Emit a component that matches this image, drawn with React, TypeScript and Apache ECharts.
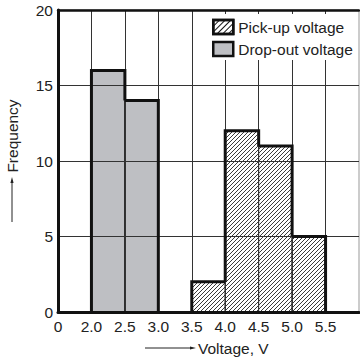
import React, { useEffect, useRef } from 'react';
import * as echarts from 'echarts';

// Tick labels of the broken voltage axis (one label per bin boundary)
const tickLabels = ['0', '2.0', '2.5', '3.0', '3.5', '4.0', '4.5', '5.0', '5.5'];
const binWidthV = 0.5;
const dropOutStart = [2.0, 2.5];
const dropOutCounts = [16, 14];
const pickUpStart = [3.5, 4.0, 4.5, 5.0];
const pickUpCounts = [2, 12, 11, 5];
const yMin = 0;
const yMax = 20;
const yInterval = 5;

const FONT = "'Liberation Sans', Arial, Helvetica, sans-serif";
const FS = 15.5;
const GRAY = '#bebfc3';
const INK = '#111';

// axis 0..2 V compressed to one cell, then 0.5 V per cell
function vToPos(v: number) {
  return v <= 2 ? v / 2 : 1 + (v - 2) / binWidthV;
}

function buildBins(starts: number[], counts: number[]) {
  return starts.map((s, i) => [
    vToPos(s),
    vToPos(s + binWidthV),
    counts[i],
    i > 0 ? counts[i - 1] : 0,
    i < counts.length - 1 ? counts[i + 1] : 0,
  ]);
}

const dropBins = buildBins(dropOutStart, dropOutCounts);
const pickBins = buildBins(pickUpStart, pickUpCounts);

function fillRender(hatched: boolean) {
  return (params: any, api: any) => {
    const x0 = api.value(0);
    const x1 = api.value(1);
    const h = api.value(2);
    const pB = api.coord([x0, 0]);
    const pT = api.coord([x1, h]);
    const xL = pB[0], xR = pT[0], yT = pT[1], yB = pB[1];
    const children: any[] = [
      {
        type: 'rect',
        shape: { x: xL, y: yT, width: xR - xL, height: yB - yT },
        style: { fill: hatched ? '#fff' : GRAY, stroke: INK, lineWidth: 1 },
      },
    ];
    if (hatched) {
      const step = 4;
      const cStart = Math.ceil((xL + yT) / step) * step;
      for (let c = cStart; c <= xR + yB; c += step) {
        const xa = Math.max(xL, c - yB);
        const xb = Math.min(xR, c - yT);
        if (xb > xa) {
          children.push({
            type: 'line',
            shape: { x1: xa, y1: c - xa, x2: xb, y2: c - xb },
            style: { stroke: '#222', lineWidth: 0.9 },
          });
        }
      }
    }
    return { type: 'group', children };
  };
}

function outlineRender(params: any, api: any) {
  const x0 = api.value(0);
  const x1 = api.value(1);
  const h = api.value(2);
  const prevH = api.value(3);
  const nextH = api.value(4);
  const start = h > prevH ? api.coord([x0, prevH]) : api.coord([x0, h]);
  const end = h > nextH ? api.coord([x1, nextH]) : api.coord([x1, h]);
  const points = [start, api.coord([x0, h]), api.coord([x1, h]), end];
  return {
    type: 'polyline',
    shape: { points },
    style: { stroke: INK, lineWidth: 3, fill: null, lineJoin: 'miter' },
  };
}

export default function App() {
  const ref = useRef<HTMLDivElement>(null);
  useEffect(() => {
    if (!ref.current) return;
    const chart = echarts.init(ref.current, null, { renderer: 'svg' });
    const option: any = {
      animation: false,
      backgroundColor: '#fff',
      textStyle: { fontFamily: FONT },
      grid: {
        left: 58,
        top: 10,
        right: 1,
        bottom: 48,
        show: true,
        borderColor: '#999',
        borderWidth: 1,
        backgroundColor: 'transparent',
      },
      xAxis: [
        {
          type: 'value',
          min: 0,
          max: tickLabels.length,
          interval: 1,
          z: 2,
          axisLine: { show: true, onZero: false, lineStyle: { color: INK, width: 3 } },
          axisTick: { show: false },
          axisLabel: {
            fontSize: FS,
            color: '#222',
            margin: 6,
            fontFamily: FONT,
            showMaxLabel: false,
            formatter: (v: number) => tickLabels[Math.round(v)] ?? '',
          },
          splitLine: { show: true, showMaxLine: false, lineStyle: { color: '#333', width: 1 } },
        },
        {
          type: 'value',
          position: 'top',
          min: 0,
          max: tickLabels.length,
          interval: 1,
          z: 2,
          axisLine: { show: true, onZero: false, lineStyle: { color: INK, width: 2.5 } },
          axisTick: { show: false },
          axisLabel: { show: false },
          splitLine: { show: false },
        },
      ],
      yAxis: {
        type: 'value',
        min: yMin,
        max: yMax,
        interval: yInterval,
        z: 2,
        axisLine: { show: true, onZero: false, lineStyle: { color: INK, width: 3 } },
        axisTick: { show: false },
        axisLabel: { fontSize: FS, color: '#222', margin: 5, fontFamily: FONT },
        splitLine: { show: true, lineStyle: { color: '#333', width: 1 } },
      },
      legend: {
        orient: 'vertical',
        left: 200,
        top: 14,
        backgroundColor: '#fff',
        padding: [4, 4, 2, 12],
        itemWidth: 20,
        itemHeight: 14,
        itemGap: 4,
        selectedMode: false,
        textStyle: { fontSize: FS, color: '#222', fontFamily: FONT, lineHeight: 18 },
        data: [
          {
            name: 'Pick-up voltage',
            icon: 'rect',
            itemStyle: {
              color: '#fff',
              borderColor: INK,
              borderWidth: 2.5,
              decal: {
                symbol: 'rect',
                symbolSize: 1,
                dashArrayX: [1, 0],
                dashArrayY: [1, 3],
                rotation: -Math.PI / 4,
                color: '#111',
              },
            },
          },
          {
            name: 'Drop-out voltage',
            icon: 'rect',
            itemStyle: { color: GRAY, borderColor: INK, borderWidth: 2.5 },
          },
        ],
      },
      series: [
        {
          name: 'Drop-out voltage',
          type: 'custom',
          z: 1,
          renderItem: fillRender(false),
          encode: { x: [0, 1], y: 2 },
          itemStyle: { color: GRAY },
          data: dropBins,
        },
        {
          name: 'Pick-up voltage',
          type: 'custom',
          z: 1,
          renderItem: fillRender(true),
          encode: { x: [0, 1], y: 2 },
          itemStyle: { color: '#fff' },
          data: pickBins,
        },
        {
          name: 'Drop-out voltage',
          type: 'custom',
          z: 3,
          renderItem: outlineRender,
          encode: { x: [0, 1], y: 2 },
          data: dropBins,
        },
        {
          name: 'Pick-up voltage',
          type: 'custom',
          z: 3,
          renderItem: outlineRender,
          encode: { x: [0, 1], y: 2 },
          data: pickBins,
        },
      ],
      graphic: [
        {
          type: 'line',
          shape: { x1: 12, y1: 222, x2: 12, y2: 181 },
          style: { stroke: '#222', lineWidth: 1 },
        },
        {
          type: 'polygon',
          shape: { points: [[12, 177], [10.4, 183], [13.6, 183]] },
          style: { fill: '#222' },
        },
        {
          type: 'text',
          x: 12,
          y: 136,
          rotation: Math.PI / 2,
          style: {
            text: 'Frequency',
            font: `${FS}px ${FONT}`,
            fill: '#222',
            align: 'center',
            verticalAlign: 'middle',
          },
        },
        {
          type: 'line',
          shape: { x1: 145, y1: 348, x2: 192, y2: 348 },
          style: { stroke: '#222', lineWidth: 1 },
        },
        {
          type: 'polygon',
          shape: { points: [[196, 348], [190, 346.4], [190, 349.6]] },
          style: { fill: '#222' },
        },
        {
          type: 'text',
          x: 198,
          y: 348,
          style: {
            text: 'Voltage, V',
            font: `${FS}px ${FONT}`,
            fill: '#222',
            align: 'left',
            verticalAlign: 'middle',
          },
        },
      ],
    };
    chart.setOption(option);
    return () => chart.dispose();
  }, []);
  return (
    <div
      ref={ref}
      style={{ position: 'fixed', left: 0, top: 0, width: 360, height: 360, background: '#fff' }}
    />
  );
}
